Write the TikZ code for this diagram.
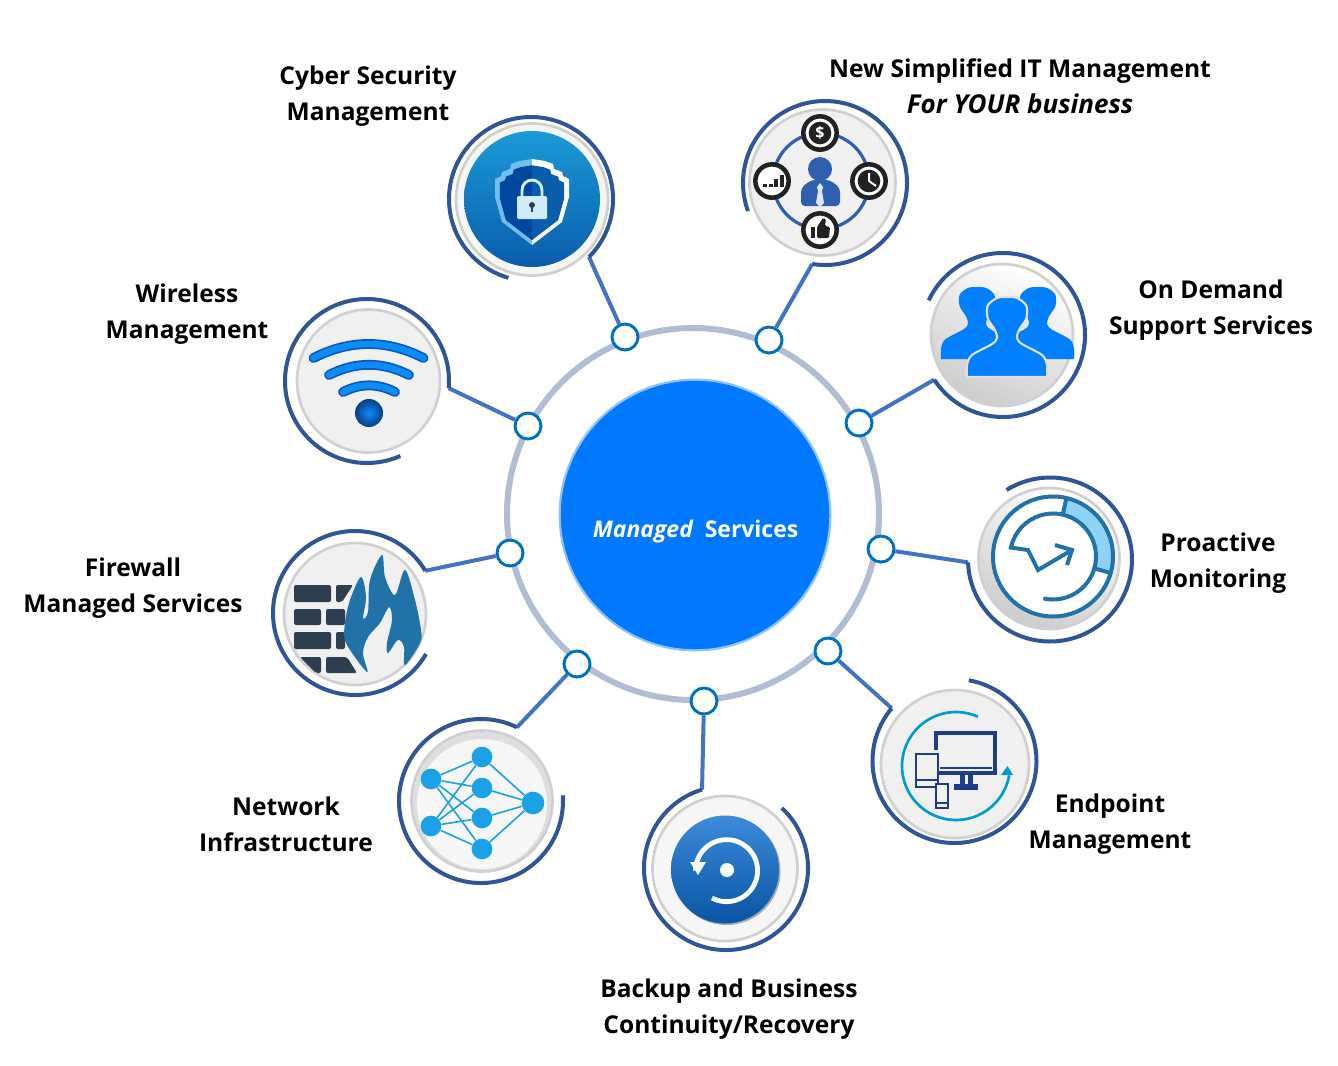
\documentclass[tikz,border=0pt]{standalone}
\usepackage{fontspec}
\setmainfont{Open Sans}
\usetikzlibrary{calc}

\definecolor{arcblue}{HTML}{2F5597}
\definecolor{linkblue}{HTML}{4472C4}
\definecolor{ringgrey}{HTML}{B0BDD2}
\definecolor{hubblue}{HTML}{0070C0}
\definecolor{corepaint}{HTML}{0078FF}
\definecolor{discgrey}{HTML}{D0D0D0}
\definecolor{panel}{HTML}{F0F0F0}
\definecolor{ink}{HTML}{222222}
\definecolor{netblue}{HTML}{1AA2E8}
\definecolor{flame}{HTML}{2272AA}
\definecolor{brick}{HTML}{2C3E50}
\definecolor{navy}{HTML}{1F3C88}
\definecolor{suitblue}{HTML}{2E5FB0}
\definecolor{peopleblue}{HTML}{0080FF}
\definecolor{wifidark}{HTML}{0B58C4}
\definecolor{wifibright}{HTML}{0A8EF5}
\definecolor{sector}{HTML}{8CD3F5}
\definecolor{shieldtop}{HTML}{1A9AD7}
\definecolor{shieldlow}{HTML}{0A5DAB}
\definecolor{shielddark}{HTML}{0047A0}
\definecolor{backuptop}{HTML}{3C8ADB}
\definecolor{backuplow}{HTML}{0A55A5}

\tikzset{
    lbl/.style={font=\fontsize{18.4}{27}\selectfont\bfseries, align=center, text=black},
    hubdot/.style={circle, draw=hubblue, line width=2.2pt, fill=white, minimum size=19.5pt, inner sep=0pt},
    disc/.style={circle, draw=discgrey, line width=2pt, fill=panel, minimum size=#1*1.5pt, inner sep=0pt},
    plain/.style={circle, minimum size=#1*1.5pt, inner sep=0pt},
    netnode/.style={circle, fill=netblue, minimum size=15.5pt, inner sep=0pt},
    badge/.style={circle, draw=ink, line width=3.4pt, fill=white, minimum size=25pt, inner sep=0pt},
    wifi/.pic={
        \draw[line width=7.4pt, line cap=round, color=wifidark] (-#1,0) .. controls (-#1/3,#1*0.34) and (#1/3,#1*0.34) .. (#1,0);
        \draw[line width=4.8pt, line cap=round, color=wifibright] (-#1,0) .. controls (-#1/3,#1*0.34) and (#1/3,#1*0.34) .. (#1,0);
    },
    shieldhalf/.pic={
        \fill[pic actions] (0,41) -- (13,39) -- (21,36) -- (22,31) -- (30,28) -- (31,24) -- (37,21) -- (37,3) -- (30,-22) -- (0,-45) -- cycle;
    },
    person/.pic={
        \path[pic actions] plot[smooth, tension=.5] coordinates {(-40,-80) (-40,-68) (-35,-58) (-15,-47) (-10,-41) (-12,-33) (-18,-24) (-20,-18) (-19,-8) (-10,-1) (0,0) (10,-1) (19,-8) (20,-18) (18,-24) (12,-33) (10,-41) (15,-47) (35,-58) (40,-68) (40,-80)} -- cycle;
    }
}

\begin{document}
\begin{tikzpicture}[x=0.75pt, y=0.75pt]
        \useasboundingbox (0,0) rectangle (1338,-1065);

        % Ring and centre
        \coordinate (ringctr) at (693,-514);
        \draw[ringgrey, line width=4.5pt] (ringctr) circle (186);
        \node[circle, fill=corepaint, draw=corepaint!45!white, line width=1.6pt, minimum size=203pt, inner sep=0pt] (core) at (695,-515) {};
        \node[font=\fontsize{17.2}{20}\selectfont\bfseries, text=white] (corelbl) at (695.5,-532) {\itshape Managed\upshape\ \ Services};

        % Outer arcs, links and hubs
        \foreach \nm/\hx/\hy/\cx/\cy/\sa/\ea in {
            cyber/625/337/531/199/-45/254,
            simple/769/340/825/183/-99/200,
            demand/859/423/1003/335/-147/155,
            watch/881/549/1050/559.5/182/482,
            endpt/828/651/954.5/761/140/440,
            backup/704/701/726/868/107/407,
            net/577/664/481/801/64/364,
            fire/510/553/355/613/31/330,
            air/528/426/367/381/-5/294}
        {
            \coordinate (\nm end) at ($(\cx,-\cy)+(\sa:82)$);
            \node[hubdot] (\nm hub) at (\hx,-\hy) {};
            \draw[linkblue, line width=3pt] (\nm end) -- (\nm hub);
            \draw[arcblue, line width=3pt] (\nm end) arc[start angle=\sa, end angle=\ea, radius=82];
        }

        % Cyber security
        \node[disc=76, fill=panel!60!white] (cyberdisc) at (532,-199.5) {};
        \node[plain=68, top color=shieldtop, bottom color=shieldlow] (cyberfill) at (532,-199) {};
        \pic[fill=sector!80!hubblue, xscale=-1] at (532,-200) {shieldhalf};
        \pic[fill=white] at (532,-200) {shieldhalf};
        \pic[fill=shielddark, xscale=-.87, yscale=.87] at (532,-201) {shieldhalf};
        \pic[fill=shieldlow, xscale=.87, yscale=.87] at (532,-201) {shieldhalf};
        \draw[sector!40!white, line width=2.2pt] (522,-197) -- (522,-190) arc[start angle=180, end angle=0, radius=10] -- (542,-197);
        \fill[sector!40!white, rounded corners=1pt] (517,-196) rectangle (547,-219);
        \fill[brick] (532,-205) circle (3);
        \fill[brick] (531,-205) rectangle (533,-212);

        % New simplified IT management
        \node[disc=73] (simpledisc) at (822.5,-182.5) {};
        \draw[suitblue, line width=2.4pt] (821,-181) circle (48);
        \fill[suitblue] (820,-169) circle (12);
        \fill[suitblue, rounded corners=3pt] (801,-206) -- (801,-188) -- (811,-180) -- (830,-180) -- (840,-188) -- (840,-206) -- cycle;
        \fill[white!85!suitblue] (820,-183) -- (823,-187) -- (822,-191) -- (824,-203) -- (820,-207) -- (816,-203) -- (818,-191) -- (817,-187) -- cycle;
        \node[badge] (dollar) at (820,-133) {};
        \node[badge] (clock) at (869,-181) {};
        \node[badge] (thumb) at (820,-230) {};
        \node[badge] (bars) at (772,-181) {};
        \node[circle, fill=ink, minimum size=17pt, inner sep=0pt, text=white, font=\fontsize{12}{12}\selectfont\bfseries] (dollarsign) at (dollar) {\$};
        \node[circle, fill=ink, minimum size=17pt, inner sep=0pt] (clockface) at (clock) {};
        \draw[white, line width=1.5pt] (869,-173) -- (869,-181) -- (876,-186);
        \foreach \x/\h in {765/3,771/3,776/8,782/12}
            \fill[ink] (\x-2,-187) rectangle (\x+2,-187+\h);
        \fill[ink] (811,-227) rectangle (815,-238);
        \fill[ink, rounded corners=1pt] (817,-227) -- (823,-218) -- (826,-219) -- (825,-226) -- (830,-227) -- (829,-238) -- (817,-238) -- cycle;

        % On demand support
        \node[disc=71, top color=white, bottom color=black!20, shading angle=-25] (demanddisc) at (1002,-335) {};
        \pic[fill=peopleblue, scale=.9] at (977,-287) {person};
        \pic[fill=peopleblue, scale=.9] at (1038,-287) {person};
        \pic[fill=peopleblue, draw=black!12, line width=1.6pt] at (1007,-297) {person};

        % Proactive monitoring
        \node[disc=70.5, top color=white, bottom color=black!20, shading angle=-25] (watchdisc) at (1049,-558.5) {};
        \coordinate (watchctr) at (1053,-556.5);
        \fill[white] (watchctr) circle (60);
        \fill[sector] ($(watchctr)+(-16:43)$) -- ($(watchctr)+(-16:60)$) arc[start angle=-16, end angle=77, radius=60] -- ($(watchctr)+(77:43)$) arc[start angle=77, end angle=-16, radius=43] -- cycle;
        \draw[flame, line width=3pt] (watchctr) circle (60);
        \draw[flame, line width=3pt] ($(watchctr)+(-103:43)$) arc[start angle=-103, end angle=168, radius=43] -- (1028,-550) -- (1038,-570) -- (1072,-550);
        \draw[flame, line width=3pt] (1055,-545) -- (1072,-550) -- (1067,-565);
        \draw[flame, line width=3pt] ($(watchctr)+(-16:43)$) -- ($(watchctr)+(-16:60)$);
        \draw[flame, line width=3pt] ($(watchctr)+(77:43)$) -- ($(watchctr)+(77:60)$);

        % Endpoint management
        \node[disc=74] (endptdisc) at (955,-764) {};
        \draw[hubblue!70!cyan, line width=2pt] (956,-766) ++(66:54) arc[start angle=66, end angle=350, radius=54];
        \fill[hubblue!70!cyan] (1007.5,-766) -- (1001,-775) -- (1013,-775) -- cycle;
        \draw[navy, line width=2.4pt] (936,-750) -- (936,-733) -- (995,-733) -- (995,-773) -- (938,-773);
        \draw[navy, line width=1.4pt] (940,-768) -- (992,-768);
        \fill[navy] (960,-773) -- (965,-773) -- (965,-784) -- (960,-784) -- cycle;
        \fill[navy] (968,-773) -- (973,-773) -- (973,-784) -- (968,-784) -- cycle;
        \fill[navy] (954,-784) rectangle (978,-790);
        \draw[navy, line width=2.2pt, fill=panel] (916,-754) rectangle (938,-787);
        \draw[navy, line width=1.2pt] (917,-780) -- (937,-780);
        \draw[navy, line width=2.2pt, fill=panel] (936,-784) rectangle (948,-808);
        \draw[navy, line width=1.2pt] (937,-803) -- (947,-803);

        % Backup and recovery
        \node[disc=72.5, fill=panel!60!white] (backupdisc) at (725,-868.5) {};
        \node[plain=54, fill=brick!60!black!40!white] (backupshade) at (726.5,-871) {};
        \node[plain=54, top color=backuptop, bottom color=backuplow] (backupfill) at (725,-869.5) {};
        \draw[white, line width=3.6pt] (712,-898) arc[start angle=242, end angle=540, radius=31];
        \fill[white] (690,-862) -- (706,-862) -- (698,-875) -- cycle;
        \fill[white] (727,-870) circle (7);

        % Network infrastructure
        \node[disc=70.5, fill=black!13] (netdisc) at (482,-801) {};
        \node[plain=65, fill=panel!60!white] (netinner) at (482,-804) {};
        \node[netnode] (in1) at (431,-779) {};
        \node[netnode] (in2) at (431,-826) {};
        \node[netnode] (mid1) at (482,-757) {};
        \node[netnode] (mid2) at (482,-788) {};
        \node[netnode] (mid3) at (482,-818) {};
        \node[netnode] (mid4) at (482,-849) {};
        \node[netnode, minimum size=17pt] (out1) at (533,-803) {};
        \foreach \a in {in1,in2}
            \foreach \b in {mid1,mid2,mid3,mid4}
                \draw[netblue, line width=1.2pt] (\a) -- (\b);
        \foreach \b in {mid1,mid2,mid3,mid4}
            \draw[netblue, line width=1.2pt] (\b) -- (out1);

        % Firewall
        \node[disc=71] (firedisc) at (355,-614) {};
        \begin{scope}[brick, rounded corners=1.5pt]
            \fill (294,-585) rectangle (331,-602);
            \fill (336,-585) -- (353,-585) -- (342,-602) -- (336,-602) -- cycle;
            \fill (294,-609) rectangle (321,-625);
            \fill (326,-609) rectangle (345,-625);
            \fill (294,-632) rectangle (331,-649);
            \fill (336,-632) rectangle (345,-649);
            \fill (300,-657) -- (321,-657) -- (321,-673) -- (316,-673) -- cycle;
            \fill (326,-657) -- (347,-657) -- (357,-673) -- (326,-673) -- cycle;
        \end{scope}
        \fill[flame] plot[smooth cycle, tension=.55] coordinates {(367,-672) (346,-643) (345,-623) (350,-600) (361,-577) (366,-597) (363,-618) (368,-612) (370,-580) (382,-555) (385,-577) (395,-595) (405,-570) (415,-600) (421,-630) (420,-643) (405,-665) (404,-647) (398,-640) (388,-653) (387,-643) (392,-620) (389,-607) (380,-623) (368,-637) (363,-653)};

        % Wireless
        \node[disc=71.5] (airdisc) at (368.5,-381) {};
        \pic at (368.5,-358) {wifi=55};
        \pic at (369,-375) {wifi=40};
        \pic at (369,-392) {wifi=26};
        \shade[inner color=wifibright, outer color=wifidark!70!black] (369,-413) circle (14);

        % Labels
        \node[lbl] (cyberlbl) at (368,-96) {Cyber Security\\Management};
        \node[lbl] (simplelbl) at (1020,-86) {New Simplified IT Management\\\fontsize{19.5}{27}\selectfont\itshape For YOUR business};
        \node[lbl] (demandlbl) at (1211,-310) {On Demand\\Support Services};
        \node[lbl] (watchlbl) at (1218,-563) {Proactive\\Monitoring};
        \node[lbl] (endptlbl) at (1110,-824) {Endpoint\\Management};
        \node[lbl] (backuplbl) at (729,-1009) {Backup and Business\\Continuity/Recovery};
        \node[lbl] (netlbl) at (286,-824) {Network\\Infrastructure};
        \node[lbl] (firelbl) at (133,-588) {Firewall\\Managed Services};
        \node[lbl] (airlbl) at (187,-314) {Wireless\\Management};

    \end{tikzpicture}
\end{document}
